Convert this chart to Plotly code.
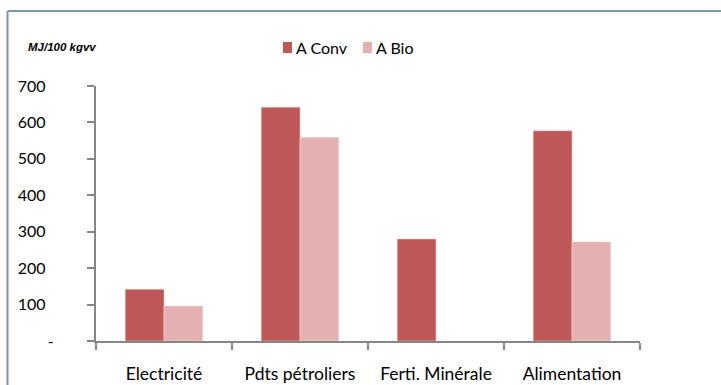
import plotly.graph_objects as go

# Energy use by item, MJ per 100 kg live weight
categories = ["Electricité", "Pdts pétroliers", "Ferti. Minérale", "Alimentation"]
series_names = ["A Conv", "A Bio"]
conv_values = [142, 642, 280, 577]
bio_values = [96, 559, None, 272]
series_colors = ["#BE5757", "#E3B1B1"]
y_tickvals = [0, 100, 200, 300, 400, 500, 600, 700]
# numeric labels padded so the dash for zero sits a little further right (accounting style)
NB = "\u00a0\u00a0"
y_ticktext = ["-", "100" + NB, "200" + NB, "300" + NB, "400" + NB, "500" + NB, "600" + NB, "700" + NB]

W, H = 721, 385
ML, MR, MT, MB = 96, 81, 86, 44
PW, PH = W - ML - MR, H - MT - MB

FONT = "Lato, Carlito, Calibri, sans-serif"
axis_grey = "#868686"


def px_x(px):
    return (px - ML) / PW


def px_y(py):
    return 1 - (py - MT) / PH


fig = go.Figure()
for name, vals, col, edge in zip(series_names, [conv_values, bio_values], series_colors,
                                 ["#E8C8C8", "#F0D6D6"]):
    fig.add_trace(go.Bar(
        name=name, x=categories, y=vals,
        marker=dict(color=col, line=dict(color=edge, width=0.6)),
    ))

fig.update_layout(
    width=W, height=H,
    margin=dict(l=ML, r=MR, t=MT, b=MB, pad=0, autoexpand=False),
    paper_bgcolor="white", plot_bgcolor="white",
    barmode="group", bargap=0.43, bargroupgap=0,
    showlegend=False,
    font=dict(family=FONT, size=16, color="#000000"),
)

fig.update_xaxes(
    type="category", automargin=False, showline=True, linecolor=axis_grey, linewidth=2,
    ticks="outside", tickson="boundaries", ticklen=7, tickwidth=2, tickcolor=axis_grey,
    tickfont=dict(family=FONT, size=17.5, color="#000000"), ticklabelstandoff=16,
    showgrid=False, zeroline=False,
)
fig.update_yaxes(
    range=[0, 700], automargin=False, tickvals=y_tickvals, ticktext=y_ticktext,
    showline=True, linecolor=axis_grey, linewidth=2,
    ticks="outside", ticklen=7, tickwidth=2, tickcolor=axis_grey,
    tickfont=dict(family=FONT, size=16, color="#000000"), ticklabelstandoff=30,
    showgrid=False, zeroline=False,
)

# Legend: coloured squares with series names
legend_left = [283, 363]
for name, col, lx in zip(series_names, series_colors, legend_left):
    fig.add_shape(type="rect", xref="paper", yref="paper",
                  x0=px_x(lx), x1=px_x(lx + 9), y0=px_y(53), y1=px_y(42),
                  line=dict(width=0), fillcolor=col)
    fig.add_annotation(text=name, xref="paper", yref="paper",
                       x=px_x(lx + 11), y=px_y(47.5), xanchor="left", yanchor="middle",
                       showarrow=False, font=dict(family=FONT, size=16, color="#000000"))

# Unit label above the value axis
fig.add_annotation(
    text="<b><i>MJ/100 kgvv</i></b>", xref="paper", yref="paper",
    x=px_x(26), y=px_y(47), xanchor="left", yanchor="middle",
    showarrow=False, font=dict(family="Arial, Liberation Sans, sans-serif", size=11.5, color="#000000"),
)

# Chart frame: left and top edges
frame = dict(color="#7F98A6", width=2)
fig.add_shape(type="line", xref="paper", yref="paper",
              x0=px_x(7.5), x1=px_x(7.5), y0=px_y(H + 10), y1=px_y(11), line=frame)
fig.add_shape(type="line", xref="paper", yref="paper",
              x0=px_x(7.5), x1=px_x(W + 10), y0=px_y(11), y1=px_y(11), line=frame)

fig.write_html("out.html")
